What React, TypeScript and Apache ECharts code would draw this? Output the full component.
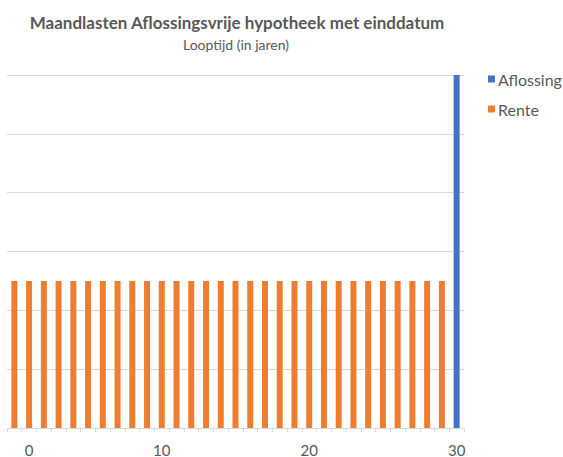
import React, { useEffect, useRef } from "react";
import * as echarts from "echarts";

const titleText = "Maandlasten Aflossingsvrije hypotheek met einddatum";
const subtitleText = "Looptijd (in jaren)";
const years: number[] = Array.from({ length: 31 }, (_, i) => i);
const renteValues: number[] = [
  250, 250, 250, 250, 250, 250, 250, 250, 250, 250,
  250, 250, 250, 250, 250, 250, 250, 250, 250, 250,
  250, 250, 250, 250, 250, 250, 250, 250, 250, 250,
  0,
];
const aflossingValues: number[] = [
  0, 0, 0, 0, 0, 0, 0, 0, 0, 0,
  0, 0, 0, 0, 0, 0, 0, 0, 0, 0,
  0, 0, 0, 0, 0, 0, 0, 0, 0, 0,
  600,
];
// tick labels shown under given category indices
const tickLabelIndex: number[] = [1, 10, 20, 30];
const tickLabelText: string[] = ["0", "10", "20", "30"];

const FONT = "Lato, 'Open Sans', sans-serif";
const GREY = "#595959";

export default function App() {
  const ref = useRef<HTMLDivElement>(null);
  useEffect(() => {
    if (!ref.current) return;
    const chart = echarts.init(ref.current, undefined, { renderer: "svg" });
    chart.setOption({
      animation: false,
      graphic: [
        {
          type: "text",
          x: 237,
          y: 22,
          style: {
            text: titleText,
            fill: GREY,
            font: `bold 17px ${FONT}`,
            align: "center",
            verticalAlign: "middle",
            textAlign: "center",
            textVerticalAlign: "middle",
          },
        },
        {
          type: "text",
          x: 236,
          y: 44,
          style: {
            text: subtitleText,
            fill: GREY,
            font: `14px ${FONT}`,
            align: "center",
            verticalAlign: "middle",
            textAlign: "center",
            textVerticalAlign: "middle",
          },
        },
      ],
      legend: {
        orient: "vertical",
        left: 483,
        top: 66,
        itemWidth: 7,
        itemHeight: 7,
        itemGap: 14,
        icon: "rect",
        textStyle: { color: GREY, fontSize: 16, fontFamily: FONT, padding: [0, 0, 0, -2] },
        data: ["Aflossing", "Rente"],
      },
      grid: { left: 7, right: 99, top: 75, bottom: 27, containLabel: false },
      xAxis: {
        type: "category",
        data: years,
        boundaryGap: true,
        axisLine: { lineStyle: { color: "#d9d9d9", width: 1 } },
        axisTick: { show: true, interval: 0, length: 4, lineStyle: { color: "#d9d9d9" } },
        axisLabel: {
          interval: 0,
          margin: 14,
          color: GREY,
          fontSize: 15,
          fontFamily: FONT,
          formatter: (_v: string, idx: number) => {
            const k = tickLabelIndex.indexOf(idx);
            return k >= 0 ? tickLabelText[k] : "";
          },
        },
      },
      yAxis: {
        type: "value",
        min: 0,
        max: 600,
        interval: 100,
        axisLabel: { show: false },
        axisLine: { show: false },
        axisTick: { show: false },
        splitLine: { lineStyle: { color: "#d9d9d9", width: 1 } },
      },
      series: [
        {
          name: "Rente",
          type: "bar",
          stack: "total",
          data: renteValues,
          barWidth: 6,
          itemStyle: { color: "#ED7D31" },
        },
        {
          name: "Aflossing",
          type: "bar",
          stack: "total",
          data: aflossingValues,
          barWidth: 6,
          itemStyle: { color: "#4472C4" },
        },
      ],
    });
    return () => chart.dispose();
  }, []);
  return <div ref={ref} style={{ width: 563, height: 457, position: "absolute", left: 0, top: 0 }} />;
}
